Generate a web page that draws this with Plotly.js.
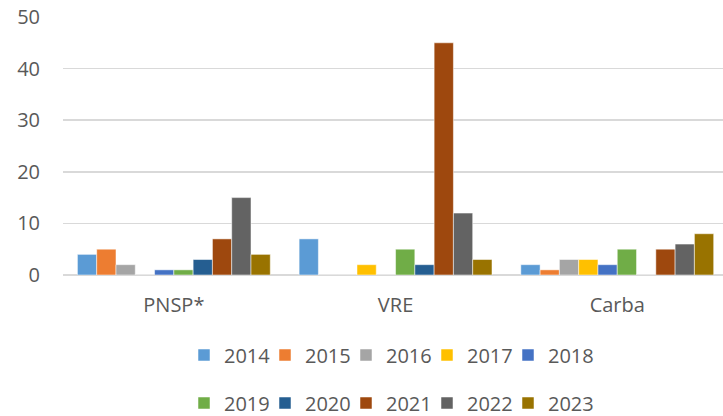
<!DOCTYPE html>
<html><head><meta charset="utf-8">
<script src="https://cdn.plot.ly/plotly-3.0.1.min.js"></script>
<style>html,body{margin:0;padding:0;overflow:hidden;background:#fff}</style>
</head><body>
<div id="chart" style="width:723px;height:416px"></div>
<script>
const categories = ["PNSP*", "VRE", "Carba"];
const years = ["2014","2015","2016","2017","2018","2019","2020","2021","2022","2023"];
const v2014 = [4, 7, 2];
const v2015 = [5, 0, 1];
const v2016 = [2, 0, 3];
const v2017 = [0, 2, 3];
const v2018 = [1, 0, 2];
const v2019 = [1, 5, 5];
const v2020 = [3, 2, 0];
const v2021 = [7, 45, 5];
const v2022 = [15, 12, 6];
const v2023 = [4, 3, 8];
const series = [v2014, v2015, v2016, v2017, v2018, v2019, v2020, v2021, v2022, v2023];
const colors = ["#5B9BD5","#ED7D31","#A5A5A5","#FFC000","#4472C4","#70AD47","#255E91","#9E480E","#636363","#997300"];

const font = {family: "Open Sans, Noto Sans, sans-serif", size: 20, color: "#595959"};
const traces = series.map((vals, i) => ({
  type: "bar",
  name: years[i],
  x: categories,
  y: vals,
  marker: {color: colors[i], line: {color: "rgba(255,255,255,0.5)", width: 1}},
  legend: i < 5 ? "legend" : "legend2",
  hoverinfo: "x+y+name"
}));

const legendCommon = {
  orientation: "h",
  xref: "container", yref: "container",
  xanchor: "left", yanchor: "middle",
  font: {family: font.family, size: 20, color: "#595959"},
  entrywidth: 36, entrywidthmode: "pixels",
  bgcolor: "rgba(0,0,0,0)", borderwidth: 0,
  traceorder: "normal", itemclick: false
};

const layout = {
  width: 723, height: 416,
  margin: {l: 63, r: 0, t: 17, b: 140.5},
  paper_bgcolor: "#ffffff", plot_bgcolor: "#ffffff",
  font: font,
  barmode: "group",
  bargap: 0.13, bargroupgap: 0,
  xaxis: {
    type: "category",
    range: [-0.5, 2.477],
    showgrid: false, zeroline: false, showline: false,
    ticks: "", ticklabelstandoff: 16,
    tickfont: font
  },
  yaxis: {
    range: [0, 50],
    dtick: 10,
    showgrid: true, gridcolor: "#D9D9D9", gridwidth: 1.5,
    zeroline: true, zerolinecolor: "#D9D9D9", zerolinewidth: 1.5,
    showline: false, ticks: "", ticklabelstandoff: 22,
    tickfont: font
  },
  showlegend: true,
  legend: Object.assign({}, legendCommon, {x: 184/723, y: 1 - 355/416}),
  legend2: Object.assign({}, legendCommon, {x: 184/723, y: 1 - 403/416})
};

Plotly.newPlot("chart", traces, layout, {displayModeBar: false, staticPlot: true}).then(gd => {
  gd.querySelectorAll("g[class^='legend'] [clip-path], g[class^='legend']").forEach(el => el.removeAttribute("clip-path"));
});
</script>
</body></html>
